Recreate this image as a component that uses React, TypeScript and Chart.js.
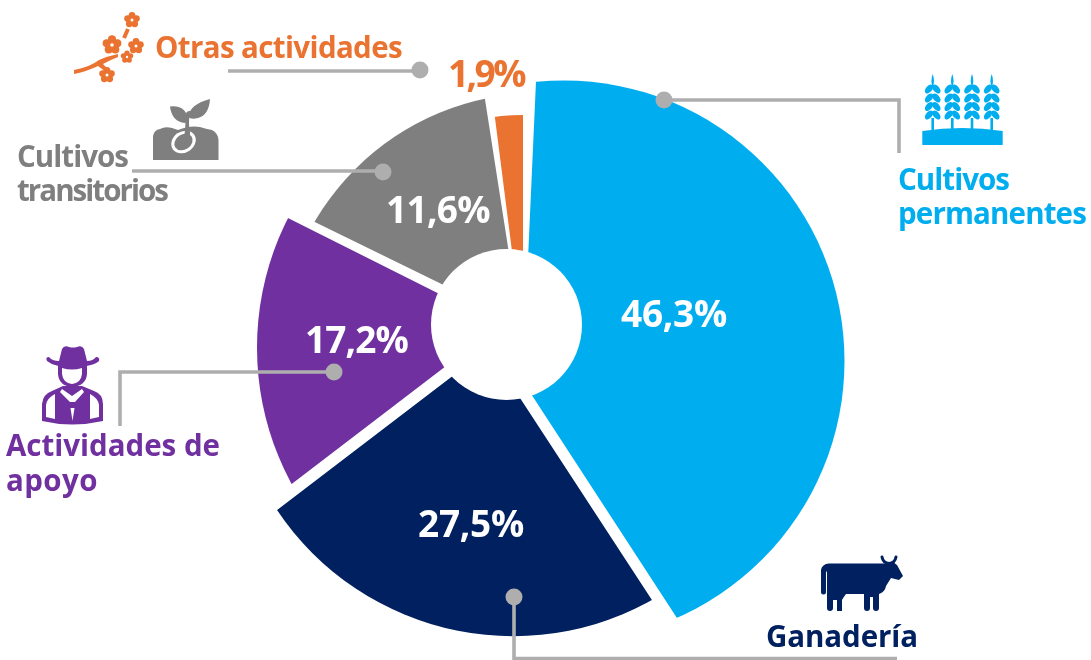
import React, { useEffect, useRef } from "react";
import { Chart, registerables, ArcElement } from "chart.js";

Chart.register(...registerables);

// ---- data ----
const categories = ["Cultivos permanentes", "Ganadería", "Actividades de apoyo", "Cultivos transitorios", "Otras actividades"];
const shares = [46.3, 27.5, 17.2, 11.6, 1.9];
const shareLabels = ["46,3%", "27,5%", "17,2%", "11,6%", "1,9%"];
const sliceColors = ["#00AEEF", "#002060", "#7030A0", "#7F7F7F", "#EA7331"];

// ---- styling of the exploded, hand-adjusted slices (the artwork is not strictly proportional) ----
const DEG = Math.PI / 180;
const sliceShapes = [
  { ax: 522.5, ay: 380.7, from: -87.42, to: 56.94, cx: 564, cy: 361, r: 280.5 },
  { ax: 488, ay: 349, from: 56.85, to: 142.65, cx: 513.3, cy: 351.8, r: 284.4 },
  { ax: 500.3, ay: 324.6, from: 142.6, to: 206.67, cx: 543.2, cy: 347.6, r: 286.2 },
  { ax: 519.7, ay: 322.2, from: 206.07, to: 261.15, cx: 539, cy: 353, r: 260 },
  { ax: 523, ay: 337.6, from: 262.73, to: 270, cx: 523, cy: 337.6, r: 222.6 },
];
const hole = { x: 506.5, y: 324.5, r: 75.5 };
const FONT = "'Open Sans', sans-serif";

const leaderPaths = [
  { pts: [[228, 71], [420, 71]], dot: [420, 70] },
  { pts: [[132, 171], [383, 171]], dot: [383, 172] },
  { pts: [[664, 100], [899, 100], [899, 153]], dot: [664, 100] },
  { pts: [[334, 372], [120, 372], [120, 426]], dot: [334, 372] },
  { pts: [[514, 597], [514, 658.5], [897, 658.5]], dot: [514, 597] },
];

const textItems = [
  { t: "Otras actividades", x: 155, y: 58, w: 247, size: 29.5, c: sliceColors[4] },
  { t: "Cultivos", x: 17, y: 167, w: 111, size: 29.5, c: sliceColors[3] },
  { t: "transitorios", x: 17, y: 201, w: 150, size: 29.5, c: sliceColors[3] },
  { t: "Cultivos", x: 898, y: 190, w: 111, size: 29.5, c: sliceColors[0] },
  { t: "permanentes", x: 898, y: 224, w: 188, size: 29.5, c: sliceColors[0] },
  { t: "Actividades de", x: 6, y: 456, w: 214, size: 29.5, c: sliceColors[2] },
  { t: "apoyo", x: 6, y: 491, w: 92, size: 29.5, c: sliceColors[2] },
  { t: "Ganadería", x: 766, y: 647, w: 152, size: 29.5, c: sliceColors[1] },
  { t: shareLabels[0], x: 621, y: 327, w: 106, size: 37, c: "#FFFFFF" },
  { t: shareLabels[1], x: 418, y: 537, w: 106, size: 37, c: "#FFFFFF" },
  { t: shareLabels[2], x: 305, y: 353, w: 103, size: 37, c: "#FFFFFF" },
  { t: shareLabels[3], x: 386, y: 223, w: 104, size: 37, c: "#FFFFFF" },
  { t: shareLabels[4], x: 448, y: 87, w: 76, size: 37, c: sliceColors[4] },
];

// ---- icons ----
function flower(ctx: CanvasRenderingContext2D, x: number, y: number, r: number) {
  for (let i = 0; i < 5; i++) {
    const a = -Math.PI / 2 + (i * 2 * Math.PI) / 5;
    ctx.beginPath();
    ctx.arc(x + Math.cos(a) * r * 0.62, y + Math.sin(a) * r * 0.62, r * 0.45, 0, Math.PI * 2);
    ctx.fill();
  }
  ctx.beginPath();
  ctx.arc(x, y, r * 0.55, 0, Math.PI * 2);
  ctx.fill();
  ctx.save();
  ctx.fillStyle = "#fff";
  ctx.beginPath();
  ctx.arc(x, y, r * 0.2, 0, Math.PI * 2);
  ctx.fill();
  ctx.restore();
}

function iconBranch(ctx: CanvasRenderingContext2D, c: string) {
  ctx.save();
  ctx.fillStyle = c;
  ctx.strokeStyle = c;
  ctx.fill(new Path2D("M74 70 Q90 67 99 60 Q108 56 118 54 L118 57 Q110 60 103 64 L108 69 L106 72 L98 66 Q88 71 74 74 Z"));
  ctx.lineWidth = 4;
  ctx.beginPath();
  ctx.moveTo(124, 38);
  ctx.lineTo(128, 29);
  ctx.stroke();
  flower(ctx, 132, 20, 7.5);
  flower(ctx, 112, 45, 9);
  flower(ctx, 136, 46, 7.5);
  flower(ctx, 127, 57, 6);
  flower(ctx, 107, 75, 7.5);
  ctx.restore();
}

function iconSprout(ctx: CanvasRenderingContext2D, c: string) {
  ctx.save();
  ctx.fillStyle = c;
  ctx.fill(new Path2D("M153 160 L153 136 Q154 130 160 129 Q165 126 172 128 L178 130 Q190 125 200 127 Q206 129 212 130 Q218 133 218.5 140 L218.5 160 Z"));
  ctx.fillStyle = "#fff";
  ctx.beginPath();
  ctx.ellipse(183.5, 142, 13, 10.5, -0.6, 0, Math.PI * 2);
  ctx.fill();
  ctx.fillStyle = c;
  ctx.beginPath();
  ctx.ellipse(183.5, 142, 9.8, 7.6, -0.6, 0, Math.PI * 2);
  ctx.fill();
  ctx.fill(new Path2D("M184 137 Q186 126 185 117 Q186 110 190 111 Q188 124 190 132 L190 138 Z"));
  ctx.fill(new Path2D("M170 106.5 Q182 105 186 113 Q189 120 185 123 Q172 122 170 106.5 Z"));
  ctx.fill(new Path2D("M210 99 Q209 115 198 118 Q191 120 188 117 Q190 104 210 99 Z"));
  ctx.restore();
}

function iconWheat(ctx: CanvasRenderingContext2D, c: string) {
  ctx.save();
  ctx.fillStyle = c;
  ctx.fill(new Path2D("M922.3 131 Q962 125 1002.7 131 L1002.7 145 L922.3 145 Z"));
  for (const x of [932.7, 952.3, 972, 991.7]) {
    ctx.fillRect(x - 1.3, 118, 2.6, 12);
    ctx.fill(new Path2D(`M${x} 74 Q${x + 2.6} 81 ${x} 87 Q${x - 2.6} 81 ${x} 74 Z`));
    for (const y of [89, 98, 106.5, 115]) {
      for (const s of [-1, 1]) {
        ctx.beginPath();
        ctx.ellipse(x + s * 3.7, y, 5.2, 3.1, s * 0.85, 0, Math.PI * 2);
        ctx.fill();
      }
    }
  }
  ctx.restore();
}

function iconCowboy(ctx: CanvasRenderingContext2D, c: string) {
  ctx.save();
  ctx.fillStyle = c;
  // body
  ctx.fill(new Path2D("M42 421 L42 404 Q43 394 52 391 L63 386 L82 386 L94 391 Q103 394 103 404 L103 421 Q72 428 42 421 Z"));
  // hat
  ctx.fill(new Path2D("M59 361 L62 349 Q64 345 69 347 Q73 348 77 347 Q82 345 84 349 L87 361 Q93 361 96 357 Q100 357 99 361 Q92 367 72 367 Q54 367 47 361 Q45 357 49 357 Q52 361 59 361 Z"));
  // hood and face
  ctx.fill(new Path2D("M58 364 L87 364 L87 374 Q86 386 72 387 Q59 386 58 374 Z"));
  ctx.fillStyle = "#fff";
  ctx.fill(new Path2D("M62 368 Q72 371 82 368 L82 374 Q81 383 72 384 Q63 383 62 374 Z"));
  // collar and arm panels
  ctx.fill(new Path2D("M62 389 L72 396 L82 389 L84 392 L75 402 L70 402 L60 392 Z"));
  ctx.fill(new Path2D("M70.5 408 L74.5 408 L72.5 421 Z"));
  ctx.fill(new Path2D("M55 394 L55 419 L46 417 L46 405 Q47 398 55 394 Z"));
  ctx.fill(new Path2D("M90 394 L90 419 L99 417 L99 405 Q98 398 90 394 Z"));
  ctx.restore();
}

function iconCow(ctx: CanvasRenderingContext2D, c: string) {
  ctx.save();
  ctx.fillStyle = c;
  ctx.strokeStyle = c;
  ctx.fill(new Path2D("M821 570 Q822 564 829 563.5 L888 563.5 L893 562 L897 565 L903 576 L899 580 L891 578 L886 586 Q885 592 879 594 L879 608 A3 3 0 0 1 873 608 L873 597 L870 597 L870 608 A3 3 0 0 1 864 608 L864 594 L846 594 Q843 598 842 600 L842 611 L837 611 L837 600 L833 600 L833 608 A3 3 0 0 1 827 608 L827 572 Q826 570 826 574 L826 592 A2.5 2.5 0 0 1 821 592 Z"));
  ctx.lineWidth = 3;
  ctx.lineCap = "round";
  ctx.beginPath();
  ctx.moveTo(882, 557);
  ctx.quadraticCurveTo(883, 563, 889, 563.5);
  ctx.quadraticCurveTo(895, 563, 896, 557);
  ctx.stroke();
  ctx.restore();
}

const artworkPlugin = {
  id: "artwork",
  beforeDatasetsDraw(chart: any) {
    const meta = chart.getDatasetMeta(0);
    meta.data.forEach((el: any, i: number) => {
      const s = sliceShapes[i];
      el.x = s.ax;
      el.y = s.ay;
      el.startAngle = s.from * DEG;
      el.endAngle = s.to * DEG;
      el.circumference = (s.to - s.from) * DEG;
      el.innerRadius = 0;
      el.outerRadius = 500;
      el.draw = function (ctx: CanvasRenderingContext2D, area: any) {
        ctx.save();
        ctx.beginPath();
        ctx.arc(s.cx, s.cy, s.r, 0, Math.PI * 2);
        ctx.clip();
        ArcElement.prototype.draw.call(this, ctx, area);
        ctx.restore();
      };
    });
  },
  afterDatasetsDraw(chart: any) {
    const ctx: CanvasRenderingContext2D = chart.ctx;
    ctx.save();
    ctx.fillStyle = "#fff";
    ctx.beginPath();
    ctx.arc(hole.x, hole.y, hole.r, 0, Math.PI * 2);
    ctx.fill();

    iconBranch(ctx, sliceColors[4]);
    iconSprout(ctx, sliceColors[3]);
    iconWheat(ctx, sliceColors[0]);
    iconCowboy(ctx, sliceColors[2]);
    iconCow(ctx, sliceColors[1]);

    ctx.strokeStyle = "#AEAEAE";
    ctx.fillStyle = "#AEAEAE";
    ctx.lineWidth = 3.6;
    ctx.lineJoin = "miter";
    for (const l of leaderPaths) {
      ctx.beginPath();
      l.pts.forEach((p, i) => (i ? ctx.lineTo(p[0], p[1]) : ctx.moveTo(p[0], p[1])));
      ctx.stroke();
      ctx.beginPath();
      ctx.arc(l.dot[0], l.dot[1], 8.5, 0, Math.PI * 2);
      ctx.fill();
    }

    ctx.textAlign = "left";
    ctx.textBaseline = "alphabetic";
    for (const it of textItems) {
      ctx.font = `700 ${it.size}px ${FONT}`;
      (ctx as any).letterSpacing = "0px";
      const m = ctx.measureText(it.t).width;
      (ctx as any).letterSpacing = `${(it.w - m) / it.t.length}px`;
      ctx.fillStyle = it.c;
      ctx.fillText(it.t, it.x, it.y);
    }
    ctx.restore();
  },
};

export default function App() {
  const ref = useRef<HTMLCanvasElement>(null);
  useEffect(() => {
    document.body.style.margin = "0";
    const chart = new Chart(ref.current as HTMLCanvasElement, {
      type: "doughnut",
      data: {
        labels: categories,
        datasets: [{ data: shares, backgroundColor: sliceColors, borderWidth: 0 }],
      },
      options: {
        responsive: false,
        animation: false,
        devicePixelRatio: 1,
        layout: { padding: 0 },
        plugins: { legend: { display: false }, tooltip: { enabled: false } },
      },
      plugins: [artworkPlugin],
    } as any);
    return () => chart.destroy();
  }, []);
  return <canvas ref={ref} width={1091} height={660} style={{ display: "block" }} />;
}
